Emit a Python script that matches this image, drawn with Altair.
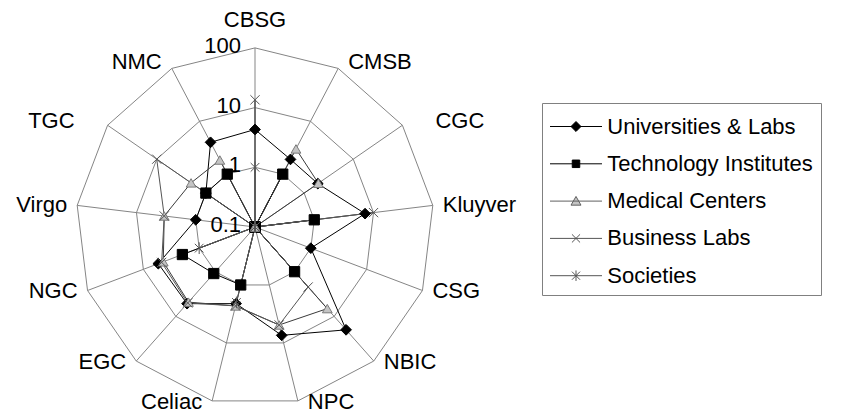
import altair as alt
import pandas as pd

# ---------------- data ----------------
categories = ["CBSG", "CMSB", "CGC", "Kluyver", "CSG", "NBIC", "NPC",
              "Celiac", "EGC", "NGC", "Virgo", "TGC", "NMC"]
series_names = ["Universities & Labs", "Technology Institutes", "Medical Centers",
                "Business Labs", "Societies"]
universities = [4.3, 1.9, 1.9, 7.2, 1.0, 20.0, 7.4, 2.1, 5.2, 5.4, 1.0, 1.0, 4.0]
technology = [0.1, 1.0, 0.1, 1.0, 0.1, 1.0, 0.1, 1.0, 1.1, 2.0, 0.1, 1.0, 1.0]
medical = [0.1, 3.0, 1.95, 0.1, 0.1, 6.7, 4.9, 2.3, 4.8, 4.4, 3.4, 2.0, 1.85]
business = [13.5, 0.1, 0.1, 10.0, 0.1, 2.2, 4.9, 2.3, 5.0, 4.7, 3.4, 10.0, 0.1]
societies = [1.0, 0.1, 0.1, 0.1, 0.1, 0.1, 0.1, 2.0, 0.1, 1.0, 0.1, 0.1, 0.1]
ring_values = [1, 10, 100]
tick_values = [0.1, 1, 10, 100]
tick_labels = ["0.1", "1", "10", "100"]

# ---------------- layout ----------------
W, H = 825, 406
CX, CY = 247, 219          # centre of the radar in plot pixels
PX = 59.7                  # pixels per decade
N = len(categories)
x_dom = [-CX / PX, (W - CX) / PX]
y_dom = [-(H - CY) / PX, CY / PX]
FONT = "Liberation Sans"

series_values = [universities, technology, medical, business, societies]
rows = []
for name, vals in zip(series_names, series_values):
    for k in range(N + 1):
        rows.append({"Series": name, "k": k, "Category": categories[k % N],
                     "value": vals[k % N]})
df = pd.DataFrame(rows)

grid = pd.DataFrame([{"ring": v, "k": k, "value": v}
                     for v in ring_values for k in range(N + 1)])
spokes = pd.DataFrame({"Category": categories, "k": list(range(N)),
                       "value": [ring_values[-1]] * N})
ticks = pd.DataFrame({"value": tick_values, "label": tick_labels})

X = lambda f: alt.X(f, type="quantitative",
                    scale=alt.Scale(domain=x_dom, nice=False, zero=False), axis=None)
Y = lambda f: alt.Y(f, type="quantitative",
                    scale=alt.Scale(domain=y_dom, nice=False, zero=False), axis=None)


def polar(ch):
    return (ch.transform_calculate(theta=f"datum.k * 2 * PI / {N}")
              .transform_calculate(r="max(0, log(datum.value * 10) / LN10)")
              .transform_calculate(x="datum.r * sin(datum.theta)")
              .transform_calculate(y="datum.r * cos(datum.theta)"))


rings = polar(alt.Chart(grid)).mark_line(color="#858585", strokeWidth=1).encode(
    x=X("x"), y=Y("y"), detail="ring:N", order="k:Q")

spoke_lines = polar(alt.Chart(spokes)).transform_calculate(z="0").mark_rule(
    color="#858585", strokeWidth=1).encode(x=X("x"), y=Y("y"), x2="z:Q", y2="z:Q")

line_colors = ["#000000", "#000000", "#3a3a3a", "#555555", "#555555"]
lines = polar(alt.Chart(df)).mark_line(strokeWidth=1).encode(
    x=X("x"), y=Y("y"), detail="Series:N", order="k:Q",
    color=alt.Color("Series:N", scale=alt.Scale(domain=series_names, range=line_colors),
                    legend=None))

marker_paths = ["diamond", "square", "triangle-up",
                "M-1,-1L1,1M1,-1L-1,1",
                "M-1,-1L1,1M1,-1L-1,1M0,-1.35L0,1.35"]
marker_fill = ["#000000", "#000000", "#c4c4c4", "transparent", "transparent"]
marker_stroke = ["#000000", "#000000", "#7a7a7a", "#555555", "#555555"]
marker_size = [115, 75, 110, 100, 110]

points = polar(alt.Chart(df)).transform_filter(f"datum.k < {N}").mark_point(
    opacity=1, strokeWidth=1).encode(
    x=X("x"), y=Y("y"),
    shape=alt.Shape("Series:N", scale=alt.Scale(domain=series_names, range=marker_paths), legend=None),
    fill=alt.Fill("Series:N", scale=alt.Scale(domain=series_names, range=marker_fill), legend=None),
    stroke=alt.Stroke("Series:N", scale=alt.Scale(domain=series_names, range=marker_stroke), legend=None),
    size=alt.Size("Series:N", scale=alt.Scale(domain=series_names, range=marker_size), legend=None),
)

tick_text = (alt.Chart(ticks)
             .transform_calculate(r="max(0, log(datum.value * 10) / LN10)")
             .transform_calculate(tx=str(-14 / PX))
             .mark_text(align="right", baseline="middle", dy=-2, font=FONT, fontSize=22, color="#000")
             .encode(x=X("tx"), y=Y("r"), text="label:N"))

R_OUT = 3  # outer ring in decades above 0.1
gap_small, gap_big = 10 / PX, 33 / PX
lab_base = (alt.Chart(spokes)
            .transform_calculate(theta=f"datum.k * 2 * PI / {N}")
            .transform_calculate(s="sin(datum.theta)", c="cos(datum.theta)")
            .transform_calculate(
                g=f"(datum.c > 0.3 && abs(datum.s) > 0.5) ? {gap_big} : {gap_small}")
            .transform_calculate(
                lx=f"{R_OUT} * datum.s + (datum.s > 0.1 ? datum.g : (datum.s < -0.1 ? -datum.g : 0))",
                ly=f"(datum.c > 0 ? {R_OUT + 0.12} : {R_OUT + 0.02}) * datum.c"
                   f" + (abs(datum.s) < 0.1 ? 0.35 : 0)"))


def lab(filt, align):
    return lab_base.transform_filter(filt).mark_text(
        align=align, baseline="middle", font=FONT, fontSize=22, color="#000").encode(
        x=X("lx"), y=Y("ly"), text="Category:N")


labels_r = lab("datum.s > 0.1", "left")
labels_l = lab("datum.s < -0.1", "right")
labels_c = lab("abs(datum.s) <= 0.1", "center")

# legend: line + marker glyphs
legend_paths = [
    "M-1.733,0H1.733M0,-0.333L0.333,0L0,0.333L-0.333,0Z",
    "M-1.733,0H1.733M-0.25,-0.25H0.25V0.25H-0.25Z",
    "M-1.733,0H1.733M0,-0.31L0.333,0.27L-0.333,0.27Z",
    "M-1.733,0H1.733M-0.27,-0.27L0.27,0.27M0.27,-0.27L-0.27,0.27",
    "M-1.733,0H1.733M-0.27,-0.27L0.27,0.27M0.27,-0.27L-0.27,0.27M0,-0.35V0.35",
]
legend_stroke = ["#000000", "#000000", "#606060", "#555555", "#555555"]
leg = alt.Legend(orient="none", legendX=534, legendY=95, title=None,
                 strokeColor="#808080", fillColor="#ffffff", padding=8,
                 labelFont=FONT, labelFontSize=22, labelColor="#000", labelLimit=400,
                 symbolSize=900, symbolStrokeWidth=1, symbolOffset=10.5,
                 labelOffset=15.8, rowPadding=10.3)
legend_layer = alt.Chart(df).transform_filter("datum.k < 0").mark_point(
    filled=True, opacity=1).encode(
    shape=alt.Shape("Series:N", scale=alt.Scale(domain=series_names, range=legend_paths), legend=leg),
    fill=alt.Fill("Series:N", scale=alt.Scale(domain=series_names, range=marker_fill), legend=leg),
    stroke=alt.Stroke("Series:N", scale=alt.Scale(domain=series_names, range=legend_stroke), legend=leg),
)

chart = (alt.layer(rings, spoke_lines, lines, points, tick_text,
                   labels_r, labels_l, labels_c, legend_layer)
         .resolve_scale(shape="independent", fill="independent",
                        stroke="independent", size="independent", color="independent")
         .resolve_legend(shape="independent", fill="independent", stroke="independent")
         .properties(width=W, height=H, padding=0,
                     autosize=alt.AutoSizeParams(type="none"), background="#ffffff")
         .configure_view(strokeWidth=0))

chart.save("out.html", embed_options={"renderer": "svg", "actions": False})
